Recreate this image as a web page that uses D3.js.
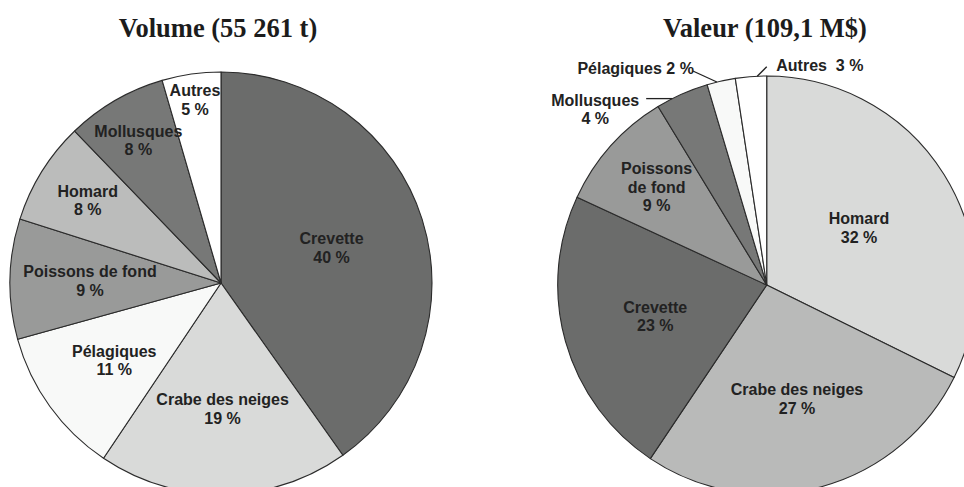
<!DOCTYPE html>
<html>
<head>
<meta charset="utf-8">
<script src="https://cdn.jsdelivr.net/npm/d3@7"></script>
<style>
  html, body { margin: 0; padding: 0; background: #ffffff; }
  svg { display: block; }
</style>
</head>
<body>
<svg id="chart" width="964" height="487"></svg>
<script>
// ---------- DATA ----------
const volumeTitle = "Volume (55 261 t)";
const volumeCategories = ["Crevette", "Crabe des neiges", "Pélagiques", "Poissons de fond", "Homard", "Mollusques", "Autres"];
const volumeShares = [40.2, 19.2, 11.3, 9.2, 7.9, 7.7, 4.5];
const volumePctLabels = ["40 %", "19 %", "11 %", "9 %", "8 %", "8 %", "5 %"];

const valeurTitle = "Valeur (109,1 M$)";
const valeurCategories = ["Homard", "Crabe des neiges", "Crevette", "Poissons\nde fond", "Mollusques", "Pélagiques", "Autres"];
const valeurShares = [32.3, 27.1, 22.5, 9.4, 4.1, 2.2, 2.4];
const valeurPctLabels = ["32 %", "27 %", "23 %", "9 %", "4 %", "2 %", "3 %"];

// ---------- STYLE / LAYOUT ----------
const fillByCategory = {
  "Crevette": "#6b6c6b",
  "Crabe des neiges": "#d9dad9",
  "Pélagiques": "#f8f9f8",
  "Poissons de fond": "#999a99",
  "Homard": "#bbbcbb",
  "Mollusques": "#777877",
  "Autres": "#ffffff"
};
const valeurFillOverride = { "Homard": "#d9dad9", "Crabe des neiges": "#b9bab9" };

const svg = d3.select("#chart");
const labelFont = "'Liberation Sans', Arial, Helvetica, sans-serif";
const titleFont = "'Liberation Serif', 'Times New Roman', serif";
const lineH = 18.7;
const capHalf = 5.8;

function drawPie(cfg) {
  const data = cfg.categories.map((c, i) => ({ name: c, key: c.replace("\n", " "), value: cfg.shares[i], pct: cfg.pct[i], i }));
  const pie = d3.pie().sort(null).value(d => d.value).startAngle(0).endAngle(2 * Math.PI);
  const arcs = pie(data);
  const arc = d3.arc().innerRadius(0).outerRadius(cfg.r);
  const g = svg.append("g").attr("transform", `translate(${cfg.cx},${cfg.cy})`);

  g.selectAll("path.slice").data(arcs).enter().append("path")
    .attr("class", "slice")
    .attr("d", arc)
    .attr("fill", d => (cfg.fillOverride && cfg.fillOverride[d.data.key]) || fillByCategory[d.data.key])
    .attr("stroke", "#2b2b2b")
    .attr("stroke-width", 1.1)
    .attr("stroke-linejoin", "round");

  arcs.forEach((a, k) => {
    const outer = cfg.outside[a.data.key];
    if (outer) {
      const ang = a.startAngle + outer.at * (a.endAngle - a.startAngle);
      const px = Math.sin(ang) * cfg.r, py = -Math.cos(ang) * cfg.r;
      g.append("polyline")
        .attr("points", `${px},${py} ${px + outer.leader[0]},${py + outer.leader[1]}`)
        .attr("fill", "none").attr("stroke", "#222").attr("stroke-width", 1.3);
      const lines = outer.lines(a.data);
      const t = g.append("text")
        .attr("font-family", labelFont).attr("font-weight", "bold").attr("font-size", 16)
        .attr("fill", "#222").attr("text-anchor", outer.anchor)
        .style("white-space", "pre");
      lines.forEach((ln, j) => {
        t.append("tspan").attr("x", px + outer.text[0]).attr("y", py + outer.text[1] + j * lineH).text(ln);
      });
      return;
    }
    const lr = cfg.r * cfg.labelRadius[k];
    const c = d3.arc().innerRadius(lr).outerRadius(lr).centroid(a);
    const lines = a.data.name.split("\n").concat([a.data.pct]);
    const y0 = c[1] - (lines.length - 1) * lineH / 2 + capHalf;
    const t = g.append("text")
      .attr("font-family", labelFont).attr("font-weight", "bold").attr("font-size", 16)
      .attr("fill", "#222").attr("text-anchor", "middle");
    lines.forEach((ln, j) => {
      t.append("tspan").attr("x", c[0]).attr("y", y0 + j * lineH).text(ln);
    });
  });

  svg.append("text")
    .attr("x", cfg.titleX).attr("y", 37)
    .attr("text-anchor", "middle")
    .attr("font-family", titleFont).attr("font-weight", "bold").attr("font-size", 26.5)
    .attr("fill", "#1c1c1c")
    .text(cfg.title);
}

drawPie({
  title: volumeTitle, titleX: 218,
  categories: volumeCategories, shares: volumeShares, pct: volumePctLabels,
  cx: 221, cy: 283, r: 211,
  labelRadius: [0.55, 0.597, 0.624, 0.621, 0.744, 0.782, 0.877],
  outside: {}
});

drawPie({
  title: valeurTitle, titleX: 765,
  categories: valeurCategories, shares: valeurShares, pct: valeurPctLabels,
  fillOverride: valeurFillOverride,
  cx: 766.7, cy: 285, r: 209,
  labelRadius: [0.52, 0.562, 0.554, 0.706, 1, 1, 1],
  outside: {
    "Mollusques": { at: 0.3, leader: [-26, 0], anchor: "middle", text: [-77, 7], lines: d => [d.name, d.pct] },
    "Pélagiques": { at: 0.35, leader: [-24, -11], anchor: "end", text: [-23, -8], lines: d => [d.name + " " + d.pct] },
    "Autres": { at: 0.7, leader: [9.5, -9.5], anchor: "start", text: [19, -5.5], lines: d => [d.name + "\u00a0\u00a0" + d.pct] }
  }
});
</script>
</body>
</html>
